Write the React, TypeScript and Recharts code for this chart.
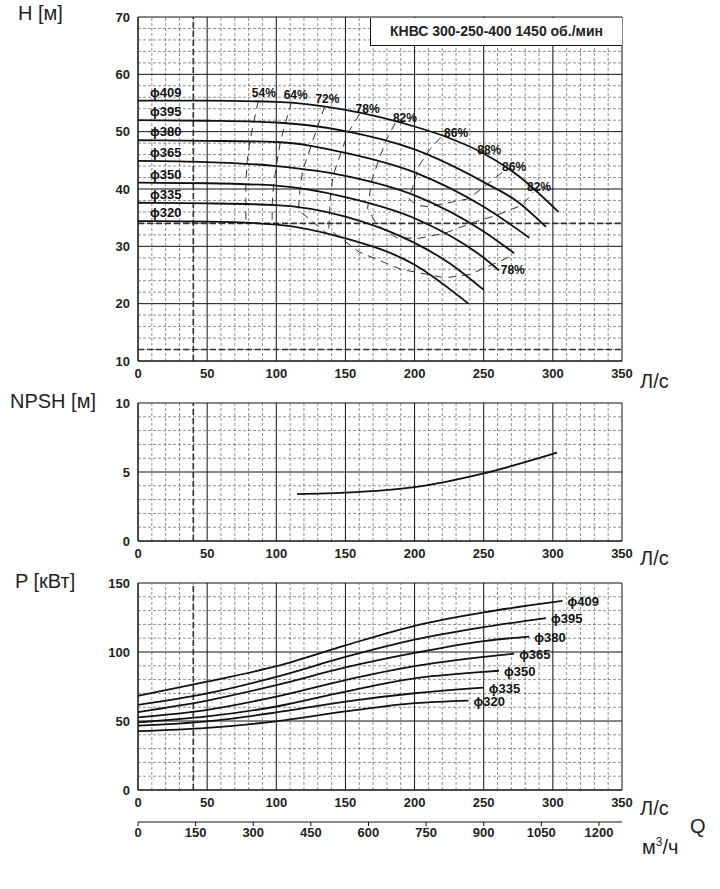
import React from 'react';
import { LineChart, Line, XAxis, YAxis, CartesianGrid, ReferenceLine, ReferenceDot } from 'recharts';

const flowTicks = [0, 50, 100, 150, 200, 250, 300, 350];
const m3hTicks = [0, 150, 300, 450, 600, 750, 900, 1050, 1200];
const diameters = ['ϕ409', 'ϕ395', 'ϕ380', 'ϕ365', 'ϕ350', 'ϕ335', 'ϕ320'];

// H(Q) per impeller diameter: [Q, H]
const headCurves: number[][][] = [
  [[0, 55.4], [50, 55.4], [100, 55.2], [150, 53.8], [200, 50.9], [225, 48.9], [250, 46.2], [275, 42.3], [304, 36.0]],
  [[0, 52.0], [50, 51.9], [100, 51.6], [150, 50.1], [200, 46.9], [250, 41.2], [275, 37.7], [295, 33.4]],
  [[0, 48.5], [50, 48.4], [100, 48.2], [150, 46.3], [200, 42.9], [250, 36.9], [283, 31.5]],
  [[0, 44.9], [50, 44.7], [100, 44.0], [150, 42.3], [200, 38.9], [250, 32.6], [272, 28.8]],
  [[0, 41.1], [50, 41.0], [100, 40.6], [150, 38.6], [200, 34.9], [250, 28.0], [261, 25.8]],
  [[0, 37.6], [50, 37.5], [100, 37.2], [150, 35.2], [200, 30.6], [225, 27.1], [250, 22.4]],
  [[0, 34.4], [50, 34.3], [100, 33.8], [150, 31.4], [200, 26.8], [239, 20.0]],
];

// efficiency iso-lines: [Q, H]
const effCurves: number[][][] = [
  [[87, 55.4], [84, 52.0], [81, 48.5], [79, 44.9], [78, 41.1], [78, 37.6], [78, 34.4]],
  [[111, 55.2], [107, 51.8], [103, 48.3], [100, 44.0], [98, 40.6], [97, 37.3], [97, 33.9]],
  [[135, 54.4], [130, 51.0], [125, 47.4], [119, 43.2], [117, 39.6], [116, 36.3], [138, 32.0]],
  [[160, 53.0], [152, 49.8], [146, 45.8], [141, 42.3], [139, 38.3], [138, 33.0], [160, 29.0], [190, 26.0], [222, 24.5], [240, 25.1], [256, 26.8], [268, 28.1]],
  [[186, 51.5], [180, 48.8], [174, 45.0], [169, 41.5], [166, 36.6], [173, 33.7], [187, 31.5], [203, 31.4], [222, 32.3], [244, 34.3], [259, 35.4], [278, 37.2], [286, 39.5]],
  [[219, 49.0], [211, 46.9], [203, 44.0], [199, 40.6], [196, 38.3], [201, 37.2], [210, 36.9], [239, 38.3], [253, 40.9], [265, 43.2]],
];

const effLabels: [number, number, string][] = [
  [91, 56.8, '54%'], [114, 56.4, '64%'], [137, 55.8, '72%'], [166, 54.0, '78%'], [193, 52.4, '82%'],
  [230, 49.8, '86%'], [254, 46.8, '88%'], [272, 43.8, '86%'], [290, 40.4, '82%'], [271, 25.9, '78%'],
];

const npsh: number[][] = [[115, 3.4], [150, 3.5], [200, 3.9], [250, 4.9], [303, 6.4]];

const powerCurves: number[][][] = [
  [[0, 68.2], [50, 78.5], [100, 89.7], [150, 104.8], [200, 119.0], [250, 128.7], [307, 137.0]],
  [[0, 61.7], [50, 70.0], [100, 82.0], [150, 96.4], [200, 108.9], [250, 118.0], [295, 124.6]],
  [[0, 56.5], [50, 64.8], [100, 76.0], [150, 88.8], [200, 99.3], [250, 107.9], [283, 111.2]],
  [[0, 52.6], [50, 58.1], [100, 67.7], [150, 79.7], [200, 89.7], [250, 96.4], [272, 98.8]],
  [[0, 49.0], [50, 53.3], [100, 60.5], [150, 71.3], [200, 80.9], [250, 85.6], [261, 86.4]],
  [[0, 46.7], [50, 49.8], [100, 56.2], [150, 64.1], [200, 70.1], [250, 74.2]],
  [[0, 42.6], [50, 45.0], [100, 49.8], [150, 56.9], [200, 62.9], [239, 64.8]],
];

// span of the m³/h axis (350 L/s * 3.6)
const m3hSpan = [{ x: 0, y: 0 }, { x: 1260, y: 0 }];

const toPts = (c: number[][]) => c.map(([x, y]) => ({ x, y }));
const FONT = '"Liberation Sans", Arial, sans-serif';
const tick = { fontSize: 13, fill: '#222', fontFamily: FONT, fontWeight: 600 };

const minorX = Array.from({ length: 35 }, (_, i) => i * 10).filter((v) => v % 50 !== 0);

function minorLines(yMin: number, yMax: number, step: number, major: number, xId = 'a') {
  const ys: number[] = [];
  for (let v = yMin + step; v < yMax - 1e-6; v += step) {
    const r = Math.round(v * 100) / 100;
    if (Math.abs(r / major - Math.round(r / major)) > 1e-6) ys.push(r);
  }
  const st = { stroke: '#444', strokeWidth: 0.6, strokeDasharray: '3 2' };
  return [
    ...minorX.map((v) => <ReferenceLine key={'mx' + v} x={v} xAxisId={xId} {...st} />),
    ...ys.map((v) => <ReferenceLine key={'my' + v} y={v} xAxisId={xId} {...st} />),
  ];
}

const leftLabel = (name: string) => (p: any) =>
  p.index === 0 ? (
    <text x={p.x + 12} y={p.y - 4} fontSize={13} fontWeight={700} fontFamily={FONT} fill="#111">{name}</text>
  ) : null;

const rightLabel = (name: string, len: number) => (p: any) =>
  p.index === len - 1 ? (
    <text x={p.x + 5} y={p.y + 5} fontSize={13} fontWeight={700} fontFamily={FONT} fill="#111">{name}</text>
  ) : null;

const abs = (l: number, t: number, size = 20): React.CSSProperties => ({
  position: 'absolute', left: l, top: t, fontSize: size, fontFamily: FONT, color: '#222', whiteSpace: 'nowrap',
});

export default function App() {
  return (
    <div style={{ position: 'absolute', left: 0, top: 0, width: 720, height: 889, background: '#fff' }}>
      <div style={{ position: 'absolute', left: 0, top: 0 }}>
        <LineChart width={720} height={386} margin={{ top: 17, right: 98, left: 0, bottom: 0 }}>
          <XAxis xAxisId="a" dataKey="x" type="number" domain={[0, 350]} ticks={flowTicks} tick={tick} height={25} tickLine={false} stroke="#111" />
          <YAxis dataKey="y" type="number" domain={[10, 70]} ticks={[10, 20, 30, 40, 50, 60, 70]} tick={tick} width={138} tickLine={false} stroke="#111" />
          <CartesianGrid xAxisId="a" stroke="#111" strokeWidth={1} />
          {minorLines(10, 70, 2, 10)}
          <ReferenceLine xAxisId="a" x={40} stroke="#333" strokeWidth={1.6} strokeDasharray="6 3" />
          <ReferenceLine xAxisId="a" y={12} stroke="#333" strokeWidth={1.6} strokeDasharray="6 3" />
          <ReferenceLine xAxisId="a" y={34} stroke="#333" strokeWidth={1.6} strokeDasharray="6 3" />
          {effCurves.map((c, i) => (
            <Line key={'e' + i} xAxisId="a" data={toPts(c)} dataKey="y" type="linear" stroke="#333" strokeWidth={1} strokeDasharray="8 6" dot={false} isAnimationActive={false} />
          ))}
          {headCurves.map((c, i) => (
            <Line key={'h' + i} xAxisId="a" data={toPts(c)} dataKey="y" type="monotone" stroke="#111" strokeWidth={1.8} dot={false} label={leftLabel(diameters[i])} isAnimationActive={false} />
          ))}
          {effLabels.map(([x, y, t], i) => (
            <ReferenceDot key={'l' + i} xAxisId="a" x={x} y={y} r={0} label={{ value: t, fontSize: 12, fontWeight: 700, fill: '#111', fontFamily: FONT }} />
          ))}
        </LineChart>
      </div>
      <div style={{ ...abs(370, 18, 14), width: 251, height: 27, background: '#fff', fontWeight: 700, textAlign: 'center', lineHeight: '27px', borderLeft: '1px solid #111', borderBottom: '1px solid #111' }}>
        КНВС 300-250-400 1450 об./мин
      </div>

      <div style={{ position: 'absolute', left: 0, top: 386 }}>
        <LineChart width={720} height={180} margin={{ top: 17, right: 98, left: 0, bottom: 0 }}>
          <XAxis xAxisId="a" dataKey="x" type="number" domain={[0, 350]} ticks={flowTicks} tick={tick} height={25} tickLine={false} stroke="#111" />
          <YAxis dataKey="y" type="number" domain={[0, 10]} ticks={[0, 5, 10]} tick={tick} width={138} tickLine={false} stroke="#111" />
          <CartesianGrid xAxisId="a" stroke="#111" />
          {minorLines(0, 10, 1, 5)}
          <ReferenceLine xAxisId="a" x={40} stroke="#333" strokeWidth={1.6} strokeDasharray="6 3" />
          <Line xAxisId="a" data={toPts(npsh)} dataKey="y" type="monotone" stroke="#111" strokeWidth={1.8} dot={false} isAnimationActive={false} />
        </LineChart>
      </div>

      <div style={{ position: 'absolute', left: 0, top: 566 }}>
        <LineChart width={720} height={286} margin={{ top: 17, right: 98, left: 0, bottom: 0 }}>
          <XAxis xAxisId="a" dataKey="x" type="number" domain={[0, 350]} ticks={flowTicks} tick={tick} height={32} tickLine={false} stroke="#111" />
          <XAxis xAxisId="q" dataKey="x" type="number" domain={[0, 1260]} ticks={m3hTicks} tick={tick} height={30} tickSize={4} stroke="#111" />
          <YAxis dataKey="y" type="number" domain={[0, 150]} ticks={[0, 50, 100, 150]} tick={tick} width={138} tickLine={false} stroke="#111" />
          <CartesianGrid xAxisId="a" stroke="#111" />
          {minorLines(0, 150, 10, 50)}
          <ReferenceLine xAxisId="a" x={40} stroke="#333" strokeWidth={1.6} strokeDasharray="6 3" />
          <Line xAxisId="q" data={m3hSpan} dataKey="y" stroke="none" dot={false} isAnimationActive={false} />
          {powerCurves.map((c, i) => (
            <Line key={'p' + i} xAxisId="a" data={toPts(c)} dataKey="y" type="monotone" stroke="#111" strokeWidth={1.8} dot={false} label={rightLabel(diameters[i], c.length)} isAnimationActive={false} />
          ))}
        </LineChart>
      </div>

      <div style={abs(18, 2)}>H [м]</div>
      <div style={abs(10, 390)}>NPSH [м]</div>
      <div style={abs(15, 570)}>P [кВт]</div>
      <div style={abs(640, 370)}>Л/с</div>
      <div style={abs(640, 547)}>Л/с</div>
      <div style={abs(640, 797)}>Л/с</div>
      <div style={abs(690, 815)}>Q</div>
      <div style={abs(642, 835)}>
        м<sup style={{ fontSize: 12 }}>3</sup>/ч
      </div>
    </div>
  );
}
